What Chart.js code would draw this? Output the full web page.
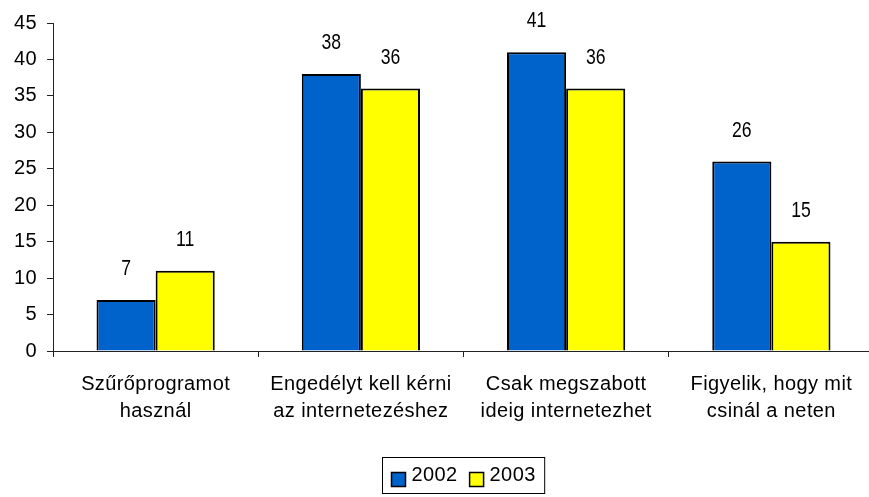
<!DOCTYPE html>
<html>
<head>
<meta charset="utf-8">
<script src="https://cdn.jsdelivr.net/npm/chart.js@4.4.0/dist/chart.umd.min.js"></script>
<style>
    html, body { margin: 0; padding: 0; background: #fff; overflow: hidden; }
    #wrap { width: 900px; height: 497px; }
</style>
</head>
<body>
<div id="wrap"><canvas id="chart" width="900" height="497"></canvas></div>
<script>
    // adatok
    var categories = [
        ['Szűrőprogramot', 'használ'],
        ['Engedélyt kell kérni', 'az internetezéshez'],
        ['Csak megszabott', 'ideig internetezhet'],
        ['Figyelik, hogy mit', 'csinál a neten']
    ];
    var seriesNames = ['2002', '2003'];
    var values2002 = [7, 38, 41, 26];
    var values2003 = [11, 36, 36, 15];
    var yMin = 0, yMax = 45, yStep = 5;

    var seriesColors = ['#0063CC', '#FFFF00'];
    var axisColor = '#222';
    var baseFont = {family: '"Liberation Sans", Arial, sans-serif', size: 20};

    // betuköz a szövegekhez
    var spacingPlugin = {
        id: 'spacing',
        beforeUpdate: function (chart) { chart.ctx.letterSpacing = '0.4px'; },
        beforeDraw: function (chart) { chart.ctx.letterSpacing = '0.4px'; }
    };

    // értékek az oszlopok felett (keskeny betű)
    var valueLabels = {
        id: 'valueLabels',
        afterDatasetsDraw: function (chart) {
            var ctx = chart.ctx;
            ctx.save();
            ctx.letterSpacing = '0px';
            ctx.font = '22px "Liberation Sans", Arial, sans-serif';
            ctx.fillStyle = '#000';
            ctx.textAlign = 'center';
            ctx.textBaseline = 'middle';
            chart.data.datasets.forEach(function (ds, i) {
                chart.getDatasetMeta(i).data.forEach(function (bar, j) {
                    ctx.save();
                    ctx.translate(bar.x, bar.y - 31);
                    ctx.scale(0.8, 1);
                    ctx.fillText(String(ds.data[j]), 0, 0);
                    ctx.restore();
                });
            });
            ctx.restore();
        }
    };

    // jelmagyarázat kerettel
    var legendBox = {
        id: 'legendBox',
        afterDraw: function (chart) {
            var ctx = chart.ctx;
            var area = chart.chartArea;
            ctx.save();
            ctx.font = baseFont.size + 'px ' + baseFont.family;
            ctx.letterSpacing = '0.4px';
            var box = 14, gapText = 6, gapItem = 12, pad = 9;
            var widths = seriesNames.map(function (s) { return ctx.measureText(s).width; });
            var total = pad * 2;
            widths.forEach(function (w, i) { total += box + gapText + w + (i > 0 ? gapItem : 0); });
            var left = Math.round((area.left + area.right) / 2 - total / 2) + 0.5;
            var top = 457.5, height = 36;
            ctx.strokeStyle = '#000';
            ctx.lineWidth = 1;
            ctx.strokeRect(left, top, total, height);
            var x = left + pad;
            ctx.textBaseline = 'middle';
            ctx.textAlign = 'left';
            seriesNames.forEach(function (s, i) {
                ctx.fillStyle = seriesColors[i];
                ctx.fillRect(x, top + 15, box, box);
                ctx.lineWidth = 1.5;
                ctx.strokeRect(x, top + 15, box, box);
                ctx.fillStyle = '#000';
                ctx.fillText(s, x + box + gapText, top + 18);
                x += box + gapText + widths[i] + gapItem;
            });
            ctx.restore();
        }
    };

    new Chart(document.getElementById('chart').getContext('2d'), {
        type: 'bar',
        data: {
            labels: categories,
            datasets: [{
                label: seriesNames[0],
                data: values2002,
                backgroundColor: seriesColors[0],
                borderColor: '#000',
                borderWidth: 2
            }, {
                label: seriesNames[1],
                data: values2003,
                backgroundColor: seriesColors[1],
                borderColor: '#000',
                borderWidth: 2
            }]
        },
        options: {
            responsive: false,
            animation: false,
            categoryPercentage: 0.576,
            barPercentage: 1.0,
            layout: {padding: {top: 23, right: 26, left: 0, bottom: 0}},
            plugins: {
                legend: {display: false},
                tooltip: {enabled: false}
            },
            scales: {
                x: {
                    offset: true,
                    grid: {offset: true, drawOnChartArea: false, drawTicks: true, tickLength: 6, color: axisColor},
                    border: {color: axisColor},
                    ticks: {
                        color: '#000',
                        font: {family: baseFont.family, size: baseFont.size, lineHeight: 1.35},
                        padding: 14,
                        maxRotation: 0,
                        autoSkip: false
                    },
                    afterFit: function (scale) { scale.height = 146; }
                },
                y: {
                    min: yMin,
                    max: yMax,
                    grid: {drawOnChartArea: false, drawTicks: true, tickLength: 6, color: axisColor},
                    border: {color: axisColor},
                    ticks: {
                        stepSize: yStep,
                        color: '#000',
                        font: baseFont,
                        padding: 10
                    },
                    afterFit: function (scale) { scale.width = 53; }
                }
            }
        },
        plugins: [spacingPlugin, valueLabels, legendBox]
    });
</script>
</body>
</html>
